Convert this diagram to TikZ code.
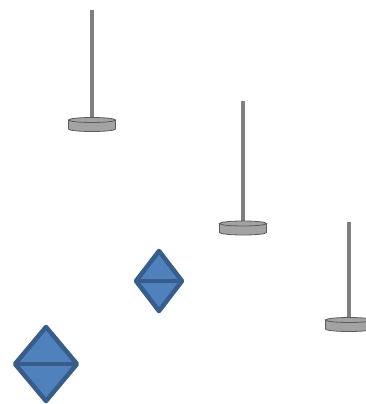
\documentclass[tikz,border=0pt]{standalone}
\usepackage{tikz}

\definecolor{polegray}{HTML}{7F7F7F}
\definecolor{basegray}{HTML}{A3A3A3}
\definecolor{baseline}{HTML}{5A5A5A}
\definecolor{bobfill}{HTML}{4F81BD}
\definecolor{bobline}{HTML}{385D8A}

\tikzset{
  pole/.style={draw=polegray,line width=4pt},
  stand base/.style={fill=basegray,draw=baseline,line width=0.8pt},
  bob/.style={fill=bobfill,draw=bobline,line width=4.5pt,line join=round}
}

\begin{document}
\begin{tikzpicture}[x=1pt,y=-1pt]
      \useasboundingbox (0,0) rectangle (366,404);
      \clip (0,0) rectangle (366,404);

      \def\rb{23.5}
      \def\ry{2.5}
      \def\hb{9}

      % stands: pole x, pole top, base top
      \foreach \cx/\ty/\by in {92/10/120, 243/101/223.5, 349/222/320}
               {
                 \draw[pole] (\cx,\ty) -- (\cx,\by);
                 \filldraw[stand base] (\cx-\rb,\by) -- (\cx-\rb,\by+\hb)
                 arc[start angle=180,end angle=0,x radius=\rb,y radius=\ry]
                 -- (\cx+\rb,\by) -- cycle;
                 \filldraw[stand base] (\cx,\by) ellipse[x radius=\rb,y radius=\ry];
               }

      % bobs: centre x, centre y, half width, half height
      \foreach \bx/\bh/\w/\h in {159/281/23/30, 46/364/31/37}
               {
                 \filldraw[bob] (\bx,\bh-\h) -- (\bx+\w,\bh)
                 -- (\bx,\bh+\h) -- (\bx-\w,\bh) -- cycle;
                 \draw[bob] (\bx-\w,\bh) -- (\bx+\w,\bh);
               }
    \end{tikzpicture}
\end{document}
